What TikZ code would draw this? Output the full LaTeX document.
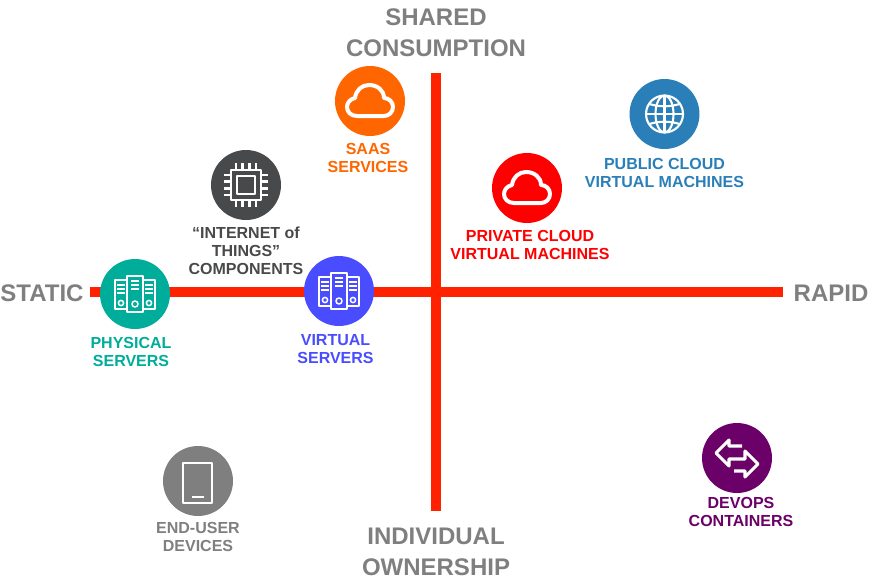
\documentclass[tikz,border=0pt]{standalone}
\usepackage{fontspec}
\setmainfont{Liberation Sans}
\usepackage{tikz}
\definecolor{axisred}{HTML}{FF2200}
\definecolor{axisgray}{HTML}{7F7F7F}
\definecolor{teal-icon}{HTML}{00AC9A}
\definecolor{blue-icon}{HTML}{4A4CFF}
\definecolor{dark-icon}{HTML}{48494B}
\definecolor{orange-icon}{HTML}{FF6600}
\definecolor{red-icon}{HTML}{FF0000}
\definecolor{cloud-icon}{HTML}{2A7FB8}
\definecolor{gray-icon}{HTML}{7F7F7F}
\definecolor{purple-icon}{HTML}{6B0068}

\tikzset{
  badge/.style={circle, fill=#1, minimum size=52.5pt, inner sep=0pt},
  caption/.style={align=center, text=#1, font=\bfseries\fontsize{12}{13.5}\selectfont},
  axistitle/.style={align=center, text=axisgray, font=\bfseries\fontsize{18}{23.25}\selectfont},
  axisline/.style={line width=7.5pt, axisred},
  glyph/.style={draw=white, line width=1.9pt, line join=round},
  pics/rackicon/.style={code={
    \foreach \xa/\xb/\ya/\yb in {-20/-8/-14/15, 8/20/-14/15, -8/8/-18/18} {
      \draw[glyph] (\xa, \ya) rectangle (\xb, \yb);
    }
    \foreach \xc/\yc in {-14/-14, 0/-18, 14/-14} {
      \foreach \k in {5, 9, 13} {
        \draw[white, line width=1.1pt] (\xc-4, \yc+\k) -- (\xc+4, \yc+\k);
      }
    }
    \draw[white, line width=1.1pt] (-14, 9) circle (2.6) (0, 10) circle (3) (14, 9) circle (2.6);
  }},
  pics/cloudicon/.style={code={
    \draw[glyph, line width=3pt] (-13, 15) -- (14, 15)
      .. controls (19, 15) and (23, 11) .. (23, 6)
      .. controls (23, 1) and (19, -3) .. (14, -3)
      .. controls (14, -11) and (7, -16) .. (-1, -16)
      .. controls (-8, -16) and (-14, -11) .. (-15, -3)
      .. controls (-20, -2) and (-23, 2) .. (-23, 6)
      .. controls (-23, 11) and (-19, 15) .. (-13, 15) -- cycle;
  }},
  pics/chipicon/.style={code={
    \draw[glyph] (-15, -15) rectangle (15, 15);
    \draw[glyph] (-9, -9) rectangle (9, 9);
    \foreach \p in {-10, -3.5, 3.5, 10} {
      \draw[glyph] (\p, -15) -- (\p, -22);
      \draw[glyph] (\p, 15) -- (\p, 22);
      \draw[glyph] (-15, \p) -- (-22, \p);
      \draw[glyph] (15, \p) -- (22, \p);
    }
  }},
  pics/globeicon/.style={code={
    \draw[glyph, line width=1.6pt] (0, 0) circle (18.5);
    \draw[glyph, line width=1.6pt] (0, 0) ellipse (9 and 18.5);
    \draw[glyph, line width=1.6pt] (0, -18.5) -- (0, 18.5);
    \draw[glyph, line width=1.6pt] (-18.5, 0) -- (18.5, 0);
    \draw[glyph, line width=1.6pt] (-15, -10) .. controls (-6, -7) and (6, -7) .. (15, -10);
    \draw[glyph, line width=1.6pt] (-15, 10) .. controls (-6, 7) and (6, 7) .. (15, 10);
  }},
  pics/tableticon/.style={code={
    \draw[glyph] (-15, -18) rectangle (14, 22);
    \draw[glyph] (-6, 16) -- (6, 16);
  }},
  pics/swapicon/.style={code={
    \draw[glyph, line width=2.3pt] (5, -12) -- (-8, -12) -- (-8, -18) -- (-21, -5) -- (-8, 8) -- (-8, 1) -- (8, 1)
      -- (8, -7) -- (21, 6) -- (8, 19) -- (8, 13) -- (-3, 13);
  }}
}

\begin{document}
\begin{tikzpicture}[x=0.75pt, y=-0.75pt]
\useasboundingbox (0, 0) rectangle (871, 579);

% Axes
\coordinate (west) at (90, 292);
\coordinate (east) at (783, 292);
\coordinate (north) at (436, 73);
\coordinate (south) at (436, 511);
\draw[axisline] (west) -- (east);
\draw[axisline] (north) -- (south);

\node[axistitle] (static) at (42, 293) {STATIC};
\node[axistitle] (rapid) at (831, 293) {RAPID};
\node[axistitle] (shared) at (436, 33) {SHARED\\CONSUMPTION};
\node[axistitle] (individual) at (436, 552) {INDIVIDUAL\\OWNERSHIP};

% ---------------------------------------------------
% Badges
\node[badge=orange-icon] (saas) at (370, 101) {};
\node[badge=dark-icon] (chip) at (246, 185) {};
\node[badge=cloud-icon] (public) at (664.5, 114) {};
\node[badge=red-icon] (private) at (527, 188) {};
\node[badge=teal-icon] (physical) at (135, 294) {};
\node[badge=blue-icon] (virtual) at (339, 291) {};
\node[badge=gray-icon] (enduser) at (198, 481) {};
\node[badge=purple-icon] (devops) at (737, 458) {};

% Icons
\pic at (saas) {cloudicon};
\pic at (chip) {chipicon};
\pic at (public) {globeicon};
\pic at (private) {cloudicon};
\pic at (physical) {rackicon};
\pic at (virtual) {rackicon};
\pic at (enduser) {tableticon};
\pic at (devops) {swapicon};

% Captions
\node[caption=orange-icon] (saas-text) at (368, 158) {SAAS\\SERVICES};
\node[caption=dark-icon] (chip-text) at (246, 251) {“INTERNET of\\THINGS”\\COMPONENTS};
\node[caption=cloud-icon] (public-text) at (664.5, 173) {PUBLIC CLOUD\\VIRTUAL MACHINES};
\node[caption=red-icon] (private-text) at (530, 245) {PRIVATE CLOUD\\VIRTUAL MACHINES};
\node[caption=teal-icon] (physical-text) at (131, 352) {PHYSICAL\\SERVERS};
\node[caption=blue-icon] (virtual-text) at (335.5, 349) {VIRTUAL\\SERVERS};
\node[caption=gray-icon] (enduser-text) at (198, 537) {END-USER\\DEVICES};
\node[caption=purple-icon] (devops-text) at (741, 512) {DEVOPS\\CONTAINERS};
\end{tikzpicture}
\end{document}
